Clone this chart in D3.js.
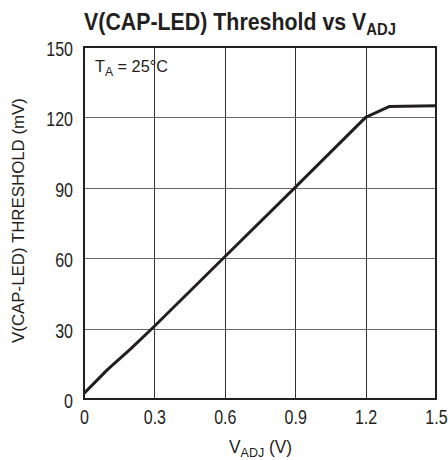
<!DOCTYPE html>
<html><head><meta charset="utf-8">
<script src="https://cdn.jsdelivr.net/npm/d3@7"></script>
<style>body{margin:0;background:#fff}text{font-family:"Liberation Sans",Arial,sans-serif;fill:#231f20}</style>
</head><body>
<svg id="c" width="448" height="460"></svg>
<script>
const vadj = [0, 0.1, 0.2, 0.3, 0.6, 0.9, 1.2, 1.3, 1.5];
const threshold = [2.4, 12.5, 21.5, 31, 60.6, 90.2, 120, 124.6, 125];
const xTicks = [0, 0.3, 0.6, 0.9, 1.2, 1.5];
const yTicks = [0, 30, 60, 90, 120, 150];

const svg = d3.select("#c");
const L = 84, R = 436, T = 47, B = 399;
const x = d3.scaleLinear().domain([0, 1.5]).range([L, R]);
const y = d3.scaleLinear().domain([0, 150]).range([B, T]);
const SX = 0.8; // condensed look

// grid
svg.append("g").selectAll("line").data(xTicks.slice(1, -1)).join("line")
  .attr("x1", d => Math.round(x(d)) + 0.5).attr("x2", d => Math.round(x(d)) + 0.5)
  .attr("y1", T).attr("y2", B).attr("stroke", "#333").attr("stroke-width", 1);
svg.append("g").selectAll("line").data(yTicks.slice(1, -1)).join("line")
  .attr("y1", d => Math.round(y(d)) + 0.5).attr("y2", d => Math.round(y(d)) + 0.5)
  .attr("x1", L).attr("x2", R).attr("stroke", "#666").attr("stroke-width", 1);
svg.append("rect").attr("x", L).attr("y", T).attr("width", R - L).attr("height", B - T)
  .attr("fill", "none").attr("stroke", "#231f20").attr("stroke-width", 2);

// axes
const xAxis = svg.append("g").attr("transform", `translate(0,${B})`)
  .call(d3.axisBottom(x).tickValues(xTicks).tickSize(0).tickPadding(0).tickFormat(d => d === 0 ? "0" : d3.format(".1f")(d)));
xAxis.select(".domain").remove();
xAxis.selectAll("text").attr("font-size", 20).attr("font-family", null).attr("fill", "#231f20")
  .attr("dy", null).attr("y", 0).attr("transform", `translate(0,25) scale(${SX},1)`);
const yAxis = svg.append("g").attr("transform", `translate(${L},0)`)
  .call(d3.axisLeft(y).tickValues(yTicks).tickSize(0).tickPadding(0));
yAxis.select(".domain").remove();
yAxis.selectAll("text").attr("font-size", 20).attr("font-family", null).attr("fill", "#231f20")
  .attr("x", 0).attr("dy", null).attr("y", 0).attr("transform", `translate(-11,8.5) scale(${SX},1)`);

// line
svg.append("path").datum(vadj.map((v, i) => [v, threshold[i]]))
  .attr("d", d3.line().x(d => x(d[0])).y(d => y(d[1])))
  .attr("fill", "none").attr("stroke", "#231f20").attr("stroke-width", 3).attr("stroke-linejoin", "round");

function fit(sel, w) {
  const bw = sel.node().getBBox().width;
  return w / bw;
}

// title
const tg = svg.append("g");
const title = tg.append("text").attr("x", 0).attr("y", 0).attr("text-anchor", "middle")
  .attr("font-size", 24.5).attr("font-weight", "bold");
title.append("tspan").text("V(CAP-LED) Threshold vs V");
title.append("tspan").attr("font-size", 17).attr("dy", 5).text("ADJ");
tg.attr("transform", `translate(240,29.5) scale(${fit(title, 312)},1)`);

// annotation
const ag = svg.append("g");
const ann = ag.append("text").attr("x", 0).attr("y", 0).attr("font-size", 16);
ann.append("tspan").text("T");
ann.append("tspan").attr("font-size", 12).attr("dy", 4).text("A");
ann.append("tspan").attr("dy", -4).text(" = 25°C");
ag.attr("transform", `translate(95,72) scale(${fit(ann, 73)},1)`);

// x label
const xg = svg.append("g");
const xl = xg.append("text").attr("x", 0).attr("y", 0).attr("text-anchor", "middle").attr("font-size", 18);
xl.append("tspan").text("V");
xl.append("tspan").attr("font-size", 13).attr("dy", 4).text("ADJ");
xl.append("tspan").attr("dy", -4).text(" (V)");
xg.attr("transform", `translate(260.5,453) scale(${fit(xl, 63)},1)`);

// y label
const yg = svg.append("g");
const yl = yg.append("text").attr("x", 0).attr("y", 0).attr("text-anchor", "middle").attr("font-size", 16)
  .text("V(CAP-LED) THRESHOLD (mV)");
yg.attr("transform", `translate(23.5,220.5) rotate(-90) scale(${fit(yl, 245)},1)`);
</script>
</body></html>
